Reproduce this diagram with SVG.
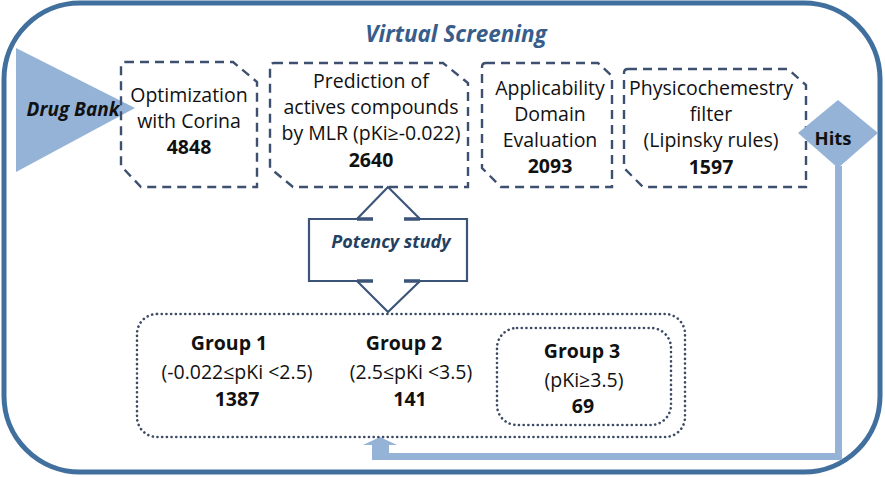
<svg xmlns="http://www.w3.org/2000/svg" width="885" height="477" viewBox="0 0 885 477">
<style>
.t{font-family:"Open Sans","Noto Sans","DejaVu Sans",sans-serif;font-size:19.5px;fill:#111;text-anchor:middle}
.b{font-weight:bold}
.bi{font-weight:bold;font-style:italic}
.dash{fill:none;stroke:#3D5070;stroke-width:2.4;stroke-dasharray:9 6}
.dot{fill:none;stroke:#3D4B66;stroke-width:2.6;stroke-dasharray:0.1 4.6;stroke-linecap:round}
.lb{fill:#95B3D7}
</style>
<rect x="0" y="0" width="885" height="477" fill="#fff"/>
<g id="frame">
<rect x="4" y="3" width="876" height="469" rx="76" ry="76" fill="none" stroke="#41709E" stroke-width="5"/>
<text class="t bi" x="456" y="42" style="font-size:22.5px;fill:#385D8A">Virtual Screening</text>
</g>
<g id="connectors">
<polygon class="lb" points="372,460 842,460 842,166 835,166 835,453 389,453 389,445 397,445 380,437 363,445 372,445"/>
</g>
<g id="drugbank">
<polygon class="lb" points="16,48 135,108 16,172"/>
<text class="t bi" x="73" y="116" style="font-size:19px">Drug Bank</text>
</g>
<g id="optimization">
<path class="dash" d="M125,62 L233,62 L257,82 L257,187 L141,187 L121,166 L121,66 Q121,62 125,62 Z"/>
<text class="t" x="189" y="102">Optimization</text>
<text class="t" x="189" y="128">with Corina</text>
<text class="t b" x="189" y="154">4848</text>
</g>
<g id="prediction">
<path class="dash" d="M274,63 L443,63 L468,83 L468,187 L293,187 L270,168 L270,67 Q270,63 274,63 Z"/>
<text class="t" x="371" y="88">Prediction of</text>
<text class="t" x="371" y="114">actives compounds</text>
<text class="t" x="371" y="140">by MLR (pKi≥-0.022)</text>
<text class="t b" x="371" y="167">2640</text>
</g>
<g id="applicability">
<path class="dash" d="M486,63 L598,63 L612,76 L612,187 L501,187 L482,168 L482,67 Q482,63 486,63 Z"/>
<text class="t" x="550" y="95">Applicability</text>
<text class="t" x="550" y="121">Domain</text>
<text class="t" x="550" y="147">Evaluation</text>
<text class="t b" x="550" y="173">2093</text>
</g>
<g id="physicochemestry">
<path class="dash" d="M628,69 L788,69 L806,85 L806,187 L643,187 L624,168 L624,73 Q624,69 628,69 Z"/>
<text class="t" x="711" y="95">Physicochemestry</text>
<text class="t" x="711" y="121">filter</text>
<text class="t" x="711" y="147">(Lipinsky rules)</text>
<text class="t b" x="711" y="174">1597</text>
</g>
<g id="hits">
<polygon class="lb" points="838,100 878,133 838,168 798,133"/>
<text class="t b" x="833" y="145" style="font-size:18.5px">Hits</text>
</g>
<g id="potency">
<path d="M309,219 L357,219 L388,187 L420,219 L467,219 L467,281 L420,281 L388,312 L357,281 L309,281 Z" fill="#fff" stroke="#3B5478" stroke-width="2.2" stroke-linejoin="miter"/>
<path d="M357,219 L373,219 M404,219 L420,219 M357,281 L373,281 M404,281 L420,281" stroke="#3B5478" stroke-width="3.6" fill="none"/>
<text class="t bi" x="391" y="248" style="font-size:18px;fill:#243F60">Potency study</text>
</g>
<g id="groups">
<rect class="dot" x="137" y="314" width="548" height="123" rx="20" ry="20"/>
<text class="t b" x="229" y="350">Group 1</text>
<text class="t" x="237" y="379">(-0.022≤pKi &lt;2.5)</text>
<text class="t b" x="237" y="406">1387</text>
<text class="t b" x="404" y="350">Group 2</text>
<text class="t" x="411" y="379">(2.5≤pKi &lt;3.5)</text>
<text class="t b" x="410" y="406">141</text>
</g>
<g id="group3">
<rect class="dot" x="497" y="328" width="174" height="97" rx="20" ry="20"/>
<text class="t b" x="582" y="358">Group 3</text>
<text class="t" x="584" y="387">(pKi≥3.5)</text>
<text class="t b" x="583" y="413">69</text>
</g>
</svg>
